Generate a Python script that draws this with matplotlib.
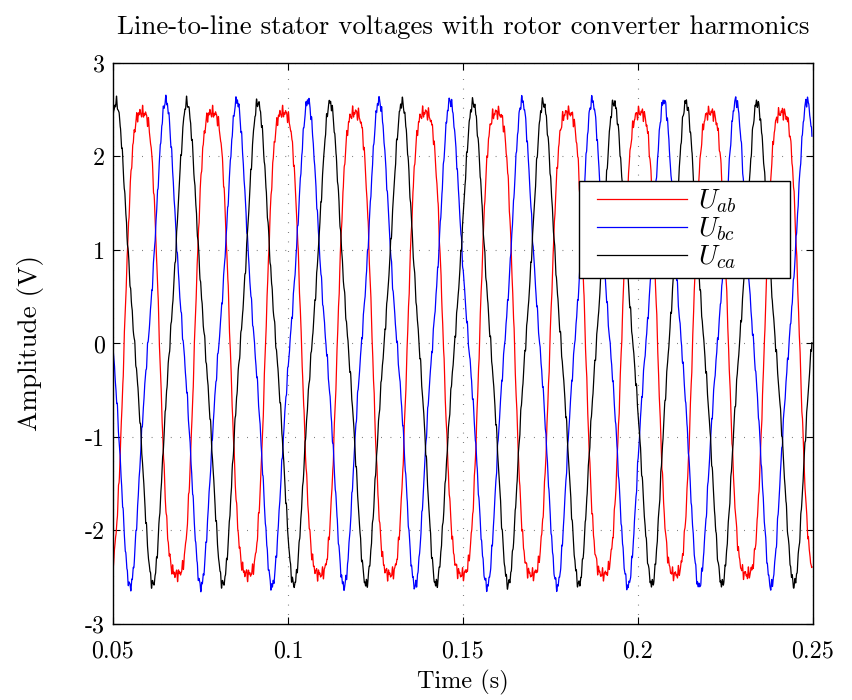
# Line-to-line stator voltages with rotor converter harmonics
import numpy as np
import matplotlib
matplotlib.use("Agg")
import matplotlib.pyplot as plt
from matplotlib.lines import Line2D
from matplotlib.legend_handler import HandlerLine2D

plt.rcParams["font.family"] = "cmr10"
plt.rcParams["mathtext.fontset"] = "cm"
plt.rcParams["axes.unicode_minus"] = False
plt.rcParams["axes.formatter.use_mathtext"] = True

# extrema times (s)
ab_peaks = [0.0583, 0.0783, 0.0986, 0.1191, 0.1391, 0.1597, 0.1800, 0.2006, 0.2206, 0.2411]
ab_troughs = [0.0481, 0.0683, 0.0886, 0.1091, 0.1291, 0.1497, 0.1697, 0.1900, 0.2106, 0.2311, 0.2513]
bc_peaks = [0.0449, 0.0651, 0.0854, 0.1057, 0.1260, 0.1463, 0.1669, 0.1869, 0.2074, 0.2280, 0.2483]
bc_troughs = [0.0549, 0.0751, 0.0954, 0.1160, 0.1363, 0.1569, 0.1769, 0.1971, 0.2174, 0.2380, 0.2583]
ca_peaks = [0.0509, 0.0711, 0.0914, 0.1120, 0.1326, 0.1529, 0.1729, 0.1931, 0.2137, 0.2340, 0.2546]
ca_troughs = [0.0409, 0.0614, 0.0814, 0.1017, 0.1223, 0.1423, 0.1629, 0.1831, 0.2040, 0.2240, 0.2446]

# peak amplitude (V) and wave shape (3rd order term: <0 flat top, >0 pointed)
amplitudes = [2.47, 2.60, 2.58]
shapes = [-0.10, 0.11, 0.10]

# converter ripple
ripple_hz = [1150, 1750, 2450]
ripple_amp = [[0.035, 0.025, 0.02], [0.03, 0.02, 0.02], [0.03, 0.025, 0.015]]

t_start, t_end = 0.05, 0.2497
labels = [r"$U_{ab}$", r"$U_{bc}$", r"$U_{ca}$"]
colors = ["#ff0000", "#0000ff", "#000000"]


def waveform(t, peaks, troughs, amp, a, ripple, phase):
    ext = np.concatenate([peaks, troughs])
    sign = np.concatenate([np.ones(len(peaks)), -np.ones(len(troughs))])
    order = np.argsort(ext)
    ext, sign = ext[order], sign[order]
    i = np.clip(np.searchsorted(ext, t) - 1, 0, len(ext) - 2)
    u = (t - ext[i]) / (ext[i + 1] - ext[i])
    th = np.pi * u
    v = amp * sign[i] * (np.cos(th) + a * np.cos(3 * th)) / (1 + a)
    for f, r in zip(ripple_hz, ripple):
        v += r * np.sin(2 * np.pi * f * t + phase * f / 1000)
    return v


def main():
    t = np.arange(t_start, t_end, 1e-5)
    series = [(ab_peaks, ab_troughs), (bc_peaks, bc_troughs), (ca_peaks, ca_troughs)]

    fig = plt.figure(figsize=(8.52, 7.0), dpi=100)
    ax = fig.add_axes([0.1326, 0.1086, 0.8216, 0.8014])

    for k, (pk, tr) in enumerate(series):
        v = waveform(t, np.array(pk), np.array(tr), amplitudes[k], shapes[k], ripple_amp[k], k * 1.7)
        ax.plot(t, v, color=colors[k], lw=0.9, label=labels[k])

    ax.set_xlim(0.05, 0.25)
    ax.set_ylim(-3, 3)
    ax.set_xticks([0.05, 0.1, 0.15, 0.2, 0.25])
    ax.set_xticklabels(["0.05", "0.1", "0.15", "0.2", "0.25"])
    ax.set_yticks(range(-3, 4))
    ax.set_yticklabels([str(y) for y in range(-3, 4)])
    ax.tick_params(direction="in", top=True, right=True, length=5, width=0.8, labelsize=17.3)
    ax.tick_params(axis="x", pad=12)
    ax.tick_params(axis="y", pad=6)
    ax.grid(True, color="0.25", linestyle=(0, (0.6, 8)), linewidth=0.8)
    for s in ax.spines.values():
        s.set_linewidth(1.0)

    ax.set_title("Line-to-line stator voltages with rotor converter harmonics", fontsize=19.4, pad=21)
    ax.set_xlabel("Time (s)", fontsize=17.5, labelpad=5)
    ax.set_ylabel("Amplitude (V)", fontsize=19.5, labelpad=29)

    leg = ax.legend(loc="upper left", bbox_to_anchor=(0.666, 0.613, 0.301, 0.177), mode="expand",
                    borderaxespad=0, fontsize=19.5, handlelength=3.73, fancybox=False, framealpha=1,
                    edgecolor="black", borderpad=0.25, labelspacing=0.02, handletextpad=0.4,
                    handler_map={Line2D: HandlerLine2D(xpad=0.4)})
    leg.get_frame().set_linewidth(1.0)

    fig.savefig("out.png", dpi=100)


main()
